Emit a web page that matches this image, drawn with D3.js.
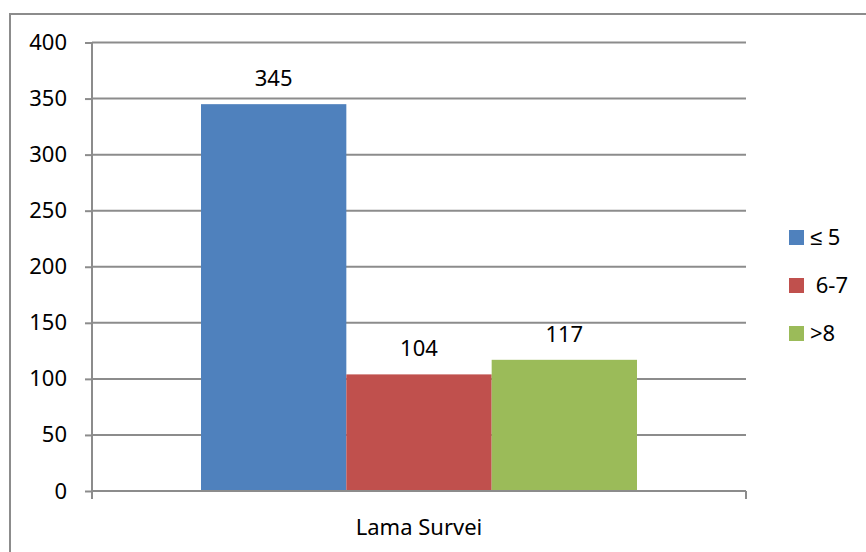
<!DOCTYPE html>
<html>
<head>
<meta charset="utf-8">
<script src="https://cdnjs.cloudflare.com/ajax/libs/d3/7.8.5/d3.min.js"></script>
<style>
  body { margin: 0; background: #fff; }
  svg { display: block; font-family: "Noto Sans", sans-serif; }
</style>
</head>
<body>
<div id="chart"></div>
<script>
// chart data
var categories = ["Lama Survei"];
var seriesNames = ["\u2264 5", " 6-7", ">8"];
var seriesValues = [345, 104, 117];
var seriesColors = ["#4F81BD", "#C0504D", "#9BBB59"];
var yTicks = [0, 50, 100, 150, 200, 250, 300, 350, 400];

var w = 866, h = 552;
// plot area edges (avoid "top" -> window.top)
var padLeft = 92, padRight = 746, padTop = 42.5, padBottom = 491;
var gridColor = "#8c8c8c";

var svg = d3.select("#chart").append("svg")
            .attr("width", w)
            .attr("height", h);

// outer chart border
svg.append("rect")
   .attr("x", 10)
   .attr("y", 14)
   .attr("width", 880)
   .attr("height", 560)
   .attr("fill", "none")
   .attr("stroke", gridColor)
   .attr("stroke-width", 2);

var yScale = d3.scaleLinear()
               .domain([0, 400])
               .range([padBottom, padTop]);

var x0 = d3.scaleBand()
           .domain(categories)
           .range([padLeft, padRight])
           .paddingInner(0)
           .paddingOuter(0.25);

var x1 = d3.scaleBand()
           .domain(seriesNames)
           .range([0, x0.bandwidth()]);

// gridlines
svg.append("g")
   .selectAll("line")
   .data(yTicks.filter(function(d) { return d > 0; }))
   .enter()
   .append("line")
   .attr("x1", padLeft)
   .attr("x2", padRight)
   .attr("y1", function(d) { return yScale(d); })
   .attr("y2", function(d) { return yScale(d); })
   .attr("stroke", gridColor)
   .attr("stroke-width", 2);

// y axis
var yAxis = d3.axisLeft(yScale)
              .tickValues(yTicks)
              .tickSize(7)
              .tickPadding(18);
var gy = svg.append("g")
            .attr("transform", "translate(" + padLeft + ",0)")
            .call(yAxis);
gy.select(".domain").remove();
gy.selectAll(".tick line").attr("stroke", gridColor).attr("stroke-width", 2);
gy.selectAll(".tick text")
  .attr("font-size", "22px")
  .attr("font-family", "Noto Sans")
  .attr("fill", "#000");
gy.append("line")
  .attr("x1", 0).attr("x2", 0)
  .attr("y1", padTop).attr("y2", padBottom + 8)
  .attr("stroke", gridColor)
  .attr("stroke-width", 2);

// bars
var bars = svg.append("g")
              .attr("transform", "translate(" + x0(categories[0]) + ",0)");
bars.selectAll("rect")
    .data(seriesValues)
    .enter()
    .append("rect")
    .attr("x", function(d, i) { return x1(seriesNames[i]); })
    .attr("y", function(d) { return yScale(d); })
    .attr("width", x1.bandwidth())
    .attr("height", function(d) { return padBottom - yScale(d); })
    .attr("fill", function(d, i) { return seriesColors[i]; });

bars.selectAll("text")
    .data(seriesValues)
    .enter()
    .append("text")
    .text(function(d) { return d; })
    .attr("x", function(d, i) { return x1(seriesNames[i]) + x1.bandwidth() / 2; })
    .attr("y", function(d) { return yScale(d) - 18; })
    .attr("text-anchor", "middle")
    .attr("font-size", "22px")
    .attr("fill", "#000");

// x axis line and ticks
svg.append("line")
   .attr("x1", padLeft).attr("x2", padRight)
   .attr("y1", padBottom).attr("y2", padBottom)
   .attr("stroke", gridColor)
   .attr("stroke-width", 2);
svg.append("g")
   .selectAll("line")
   .data([padLeft, padRight])
   .enter()
   .append("line")
   .attr("x1", function(d) { return d; })
   .attr("x2", function(d) { return d; })
   .attr("y1", padBottom)
   .attr("y2", padBottom + 8)
   .attr("stroke", gridColor)
   .attr("stroke-width", 2);

svg.append("text")
   .text(categories[0])
   .attr("x", x0(categories[0]) + x0.bandwidth() / 2)
   .attr("y", 535)
   .attr("text-anchor", "middle")
   .attr("font-size", "22px")
   .attr("fill", "#000");

// legend
var legend = svg.append("g")
                .selectAll("g")
                .data(seriesNames)
                .enter()
                .append("g")
                .attr("transform", function(d, i) { return "translate(789," + (230 + i * 48) + ")"; });
legend.append("rect")
      .attr("width", 15)
      .attr("height", 15)
      .attr("fill", function(d, i) { return seriesColors[i]; });
legend.append("text")
      .text(function(d) { return d; })
      .attr("x", 21)
      .attr("y", 15)
      .style("white-space", "pre")
      .attr("font-size", "22px")
      .attr("fill", "#000");
</script>
</body>
</html>
